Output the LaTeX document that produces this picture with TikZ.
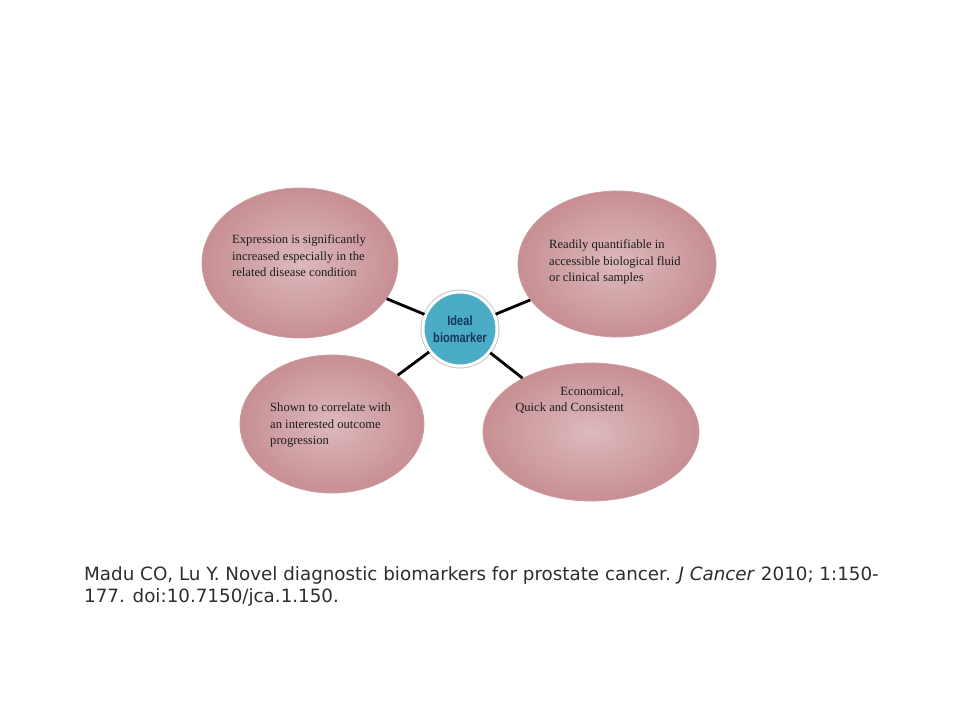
\documentclass[tikz,border=0pt]{standalone}
\usepackage{fontspec}
\setmainfont{Liberation Serif}
\newfontfamily\capfont{DejaVu Sans}
\newfontfamily\narrowfont[FakeStretch=0.82]{Liberation Sans}
\usepackage{xcolor}
\usetikzlibrary{shapes,positioning}
\definecolor{blobin}{HTML}{DCB9BB}
\definecolor{blobout}{HTML}{C78F94}
\definecolor{blobline}{HTML}{CC9EA1}
\definecolor{hub}{HTML}{4BACC6}
\definecolor{hubtext}{HTML}{17365D}
\definecolor{ink}{HTML}{1C1C1C}
\definecolor{captext}{HTML}{2E2E2E}

\begin{document}
\begin{tikzpicture}[x=1pt,y=-1pt,
  blob/.style={ellipse, draw=blobline, line width=0.8pt, inner color=blobin, outer color=blobout, inner sep=0pt},
  blobtext/.style={align=left, inner sep=0pt, font=\fontsize{12.6}{16.5}\selectfont, text=ink},
  link/.style={line width=2.8pt, black}]
\useasboundingbox[fill=white] (0,0) rectangle (960,720);
% outer ellipses
\node[blob, minimum width=196, minimum height=150] (expr) at (300,263) {};
\node[blob, minimum width=198, minimum height=146] (fluid) at (617,264) {};
\node[blob, minimum width=184, minimum height=138] (outcome) at (332,424) {};
\node[blob, minimum width=216, minimum height=138] (cheap) at (591,432) {};
% hub
\node[circle, minimum size=74, fill=hub, draw=white, line width=3pt,
  preaction={draw=gray!45, line width=5pt}] (bio) at (460,329) {};
\node[align=center, font=\narrowfont\bfseries\fontsize{13.5}{17}\selectfont, text=hubtext] (biotext) at (bio) {Ideal\\biomarker};
% links
\draw[link] (bio) -- (expr);
\draw[link] (bio) -- (fluid);
\draw[link] (bio) -- (outcome);
\draw[link] (bio) -- (cheap);
% texts
\node[blobtext, anchor=west] (exprtext) at (232,256) {Expression is significantly\\increased especially in the\\related disease condition};
\node[blobtext, anchor=west] (fluidtext) at (549,262) {Readily quantifiable in\\accessible biological fluid\\or clinical samples};
\node[blobtext, anchor=west] (outcometext) at (270,425) {Shown to correlate with\\an interested outcome\\progression};
\node[blobtext, align=right, anchor=east] (cheaptext) at (624,400) {Economical,\\Quick and Consistent};
% reference
\node[align=left, anchor=west, inner sep=0pt, text=captext, font=\capfont\fontsize{18.3}{22}\selectfont] (cite) at (84,586)
  {Madu CO, Lu Y. Novel diagnostic biomarkers for prostate cancer. \textit{J Cancer} 2010; 1:150-\\177. doi:10.7150/jca.1.150.};
\end{tikzpicture}
\end{document}
